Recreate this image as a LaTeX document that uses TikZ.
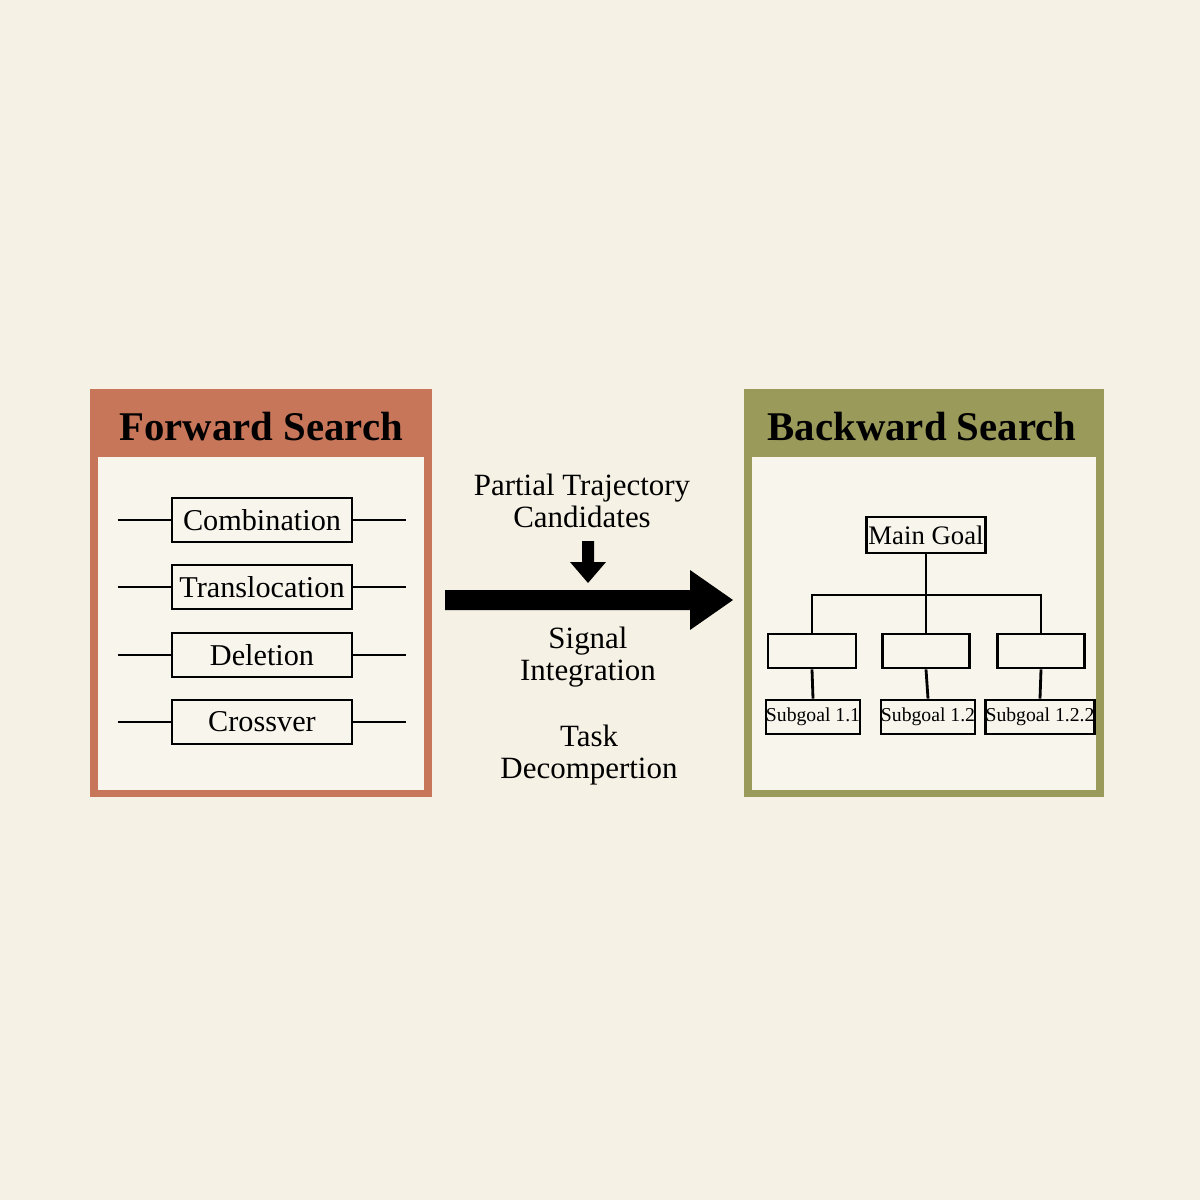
\documentclass[tikz,border=0pt]{standalone}
\usepackage{fontspec}
\setmainfont{Liberation Serif}
\begin{document}
\begin{tikzpicture}[x=0.01cm,y=-0.01cm,
  lbl/.style={draw,thick,minimum height=0.44cm,inner sep=0pt,font=\fontsize{8.6}{10}\selectfont},
  sub/.style={draw,thick,minimum height=0.34cm,inner sep=0pt,font=\fontsize{5.6}{6}\selectfont},
  mid/.style={align=center,font=\fontsize{8.8}{9.2}\selectfont},
  ln/.style={thick}]
\definecolor{bg}{HTML}{F5F1E4}
\definecolor{inner}{HTML}{F8F5EC}
\definecolor{fwd}{HTML}{C8765A}
\definecolor{bwd}{HTML}{9A9A5A}
\fill[bg] (0,0) rectangle (1200,1200);
\useasboundingbox (0,0) rectangle (1200,1200);
% Forward box
\fill[fwd] (90,389) rectangle (432,797);
\fill[inner] (98,457) rectangle (424,790);
\node[font=\fontsize{11.6}{12}\selectfont\bfseries] (ft) at (261,427) {Forward Search};
\node[lbl,minimum width=1.8cm] (c1) at (262,520) {Combination};
\node[lbl,minimum width=1.8cm] (c2) at (262,587) {Translocation};
\node[lbl,minimum width=1.8cm] (c3) at (262,655) {Deletion};
\node[lbl,minimum width=1.8cm] (c4) at (262,722) {Crossver};
\foreach \n in {c1,c2,c3,c4}{
  \coordinate (\n l) at ([xshift=-53*0.01cm]\n.west);
  \coordinate (\n r) at ([xshift=53*0.01cm]\n.east);
  \draw[ln] (\n l) -- (\n.west);
  \draw[ln] (\n.east) -- (\n r);}
% Backward box
\fill[bwd] (744,389) rectangle (1104,797);
\fill[inner] (752,457) rectangle (1096,790);
\node[font=\fontsize{11.6}{12}\selectfont\bfseries] (bt) at (922,427) {Backward Search};
\node[draw,thick,minimum width=1.19cm,minimum height=0.36cm,inner sep=0pt,font=\fontsize{7.6}{8}\selectfont] (mg) at (926,535) {Main Goal};
\node[draw,thick,minimum width=0.88cm,minimum height=0.34cm] (e1) at (812,651) {};
\node[draw,thick,minimum width=0.87cm,minimum height=0.34cm] (e2) at (926,651) {};
\node[draw,thick,minimum width=0.87cm,minimum height=0.34cm] (e3) at (1041,651) {};
\node[sub,minimum width=0.93cm] (s1) at (813,717) {Subgoal 1.1};
\node[sub,minimum width=0.94cm] (s2) at (928,717) {Subgoal 1.2};
\node[sub,minimum width=0.95cm] (s3) at (1040,717) {Subgoal 1.2.2};
\coordinate (j) at (926,595);
\draw[ln] (mg.south) -- (e2.north);
\draw[ln] (e1.north) |- (j) -| (e3.north);
\draw[ln] (e1.south) -- (s1.north);
\draw[ln] (e2.south) -- (s2.north);
\draw[ln] (e3.south) -- (s3.north);
% middle
\node[mid] (pt) at (582,501) {Partial Trajectory\\Candidates};
\node[mid] (si) at (588,657) {Signal\\Integration};
\node[mid] (td) at (589,755) {Task\\Decompertion};
\fill (445,590) -- (690,590) -- (690,570) -- (733,600) -- (690,630) -- (690,610) -- (445,610) -- cycle;
\fill (582,541) -- (594,541) -- (594,562) -- (606,562) -- (588,583) -- (570,562) -- (582,562) -- cycle;
\end{tikzpicture}
\end{document}
